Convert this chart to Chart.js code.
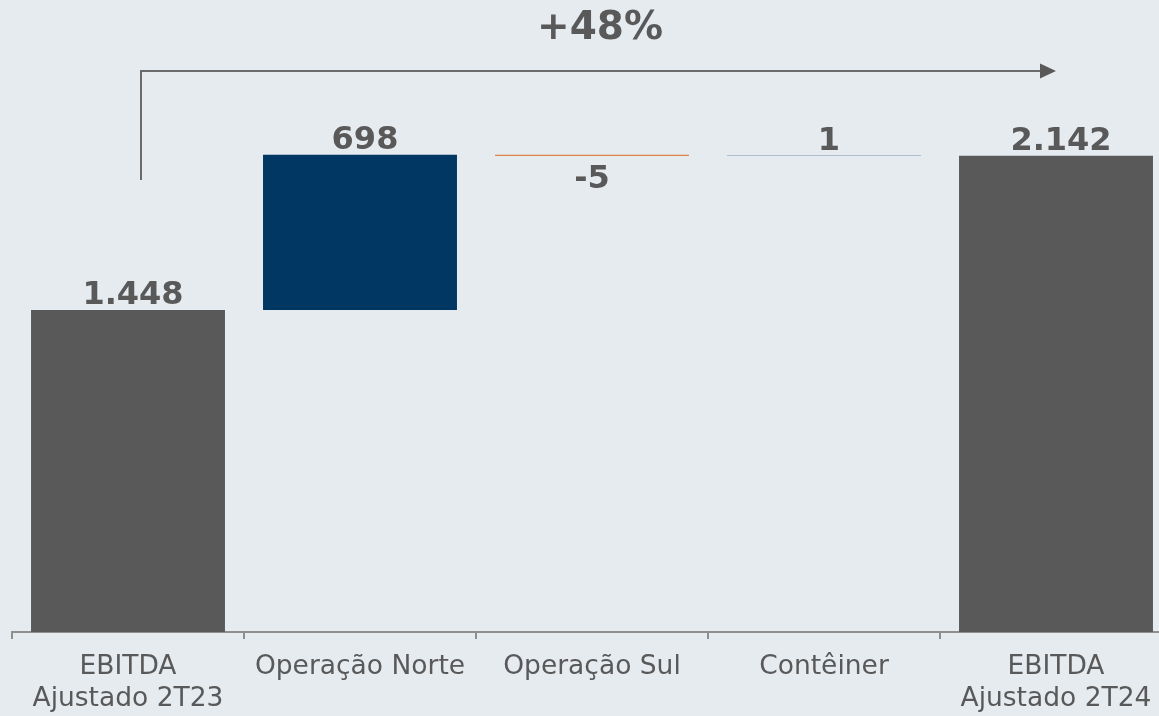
<!DOCTYPE html>
<html>
<head>
<meta charset="utf-8">
<script src="https://cdn.jsdelivr.net/npm/chart.js@4/dist/chart.umd.min.js"></script>
<style>
  html, body { margin: 0; padding: 0; background: #e6ebf0; overflow: hidden; }
  #wrap { width: 1185px; height: 716px; }
</style>
</head>
<body>
<div id="wrap"><canvas id="grafico"></canvas></div>
<script>
// dados do gráfico (R$ milhões)
const categorias = [['EBITDA', 'Ajustado 2T23'], 'Operação Norte', 'Operação Sul', 'Contêiner', ['EBITDA', 'Ajustado 2T24']];
const valores = [1448, 698, -5, 1, 2142];
const ehTotal = [true, false, false, false, true];
const variacaoTexto = '+48%';

const corTotal = '#595959';
const corPositivo = '#003763';
const corNegativo = '#e0804a';
const corTexto = '#595959';

// monta as barras flutuantes da cascata
let acumulado = 0;
const barras = valores.map(function (v, i) {
    if (ehTotal[i]) { acumulado = v; return [0, v]; }
    const ini = acumulado;
    acumulado += v;
    return [ini, acumulado];
});
const cores = valores.map(function (v, i) {
    if (ehTotal[i]) return corTotal;
    return v < 0 ? corNegativo : corPositivo;
});

function formatar(v) {
    const s = String(Math.abs(v)).replace(/\B(?=(\d{3})+(?!\d))/g, '.');
    return (v < 0 ? '-' : '') + s;
}

// rótulos e seta de variação
const rotulosPlugin = {
    id: 'rotulos',
    afterDatasetsDraw(chart) {
        const ctx = chart.ctx;
        const meta = chart.getDatasetMeta(0);
        const y = chart.scales.y;
        ctx.save();
        ctx.fillStyle = corTexto;
        ctx.font = 'bold 32px "DejaVu Sans"';
        ctx.textAlign = 'center';
        meta.data.forEach(function (bar, i) {
            const v = valores[i];
            const topo = y.getPixelForValue(Math.max(barras[i][0], barras[i][1]));
            const base = y.getPixelForValue(Math.min(barras[i][0], barras[i][1]));
            if (v < 0 && !ehTotal[i]) {
                ctx.textBaseline = 'top';
                ctx.fillText(formatar(v), bar.x, base + 8);
            } else {
                ctx.textBaseline = 'alphabetic';
                ctx.fillText(formatar(v), bar.x + 5, topo - 6);
            }
        });

        // seta
        const x0 = chart.scales.x.getPixelForValue(0) + 13;
        const x1 = chart.scales.x.getPixelForValue(valores.length - 1);
        const yl = 71;
        ctx.strokeStyle = '#6b6b6b';
        ctx.lineWidth = 2;
        ctx.beginPath();
        ctx.moveTo(x0, 180);
        ctx.lineTo(x0, yl);
        ctx.lineTo(x1 - 14, yl);
        ctx.stroke();
        ctx.fillStyle = '#595959';
        ctx.beginPath();
        ctx.moveTo(x1 - 16, yl - 7.5);
        ctx.lineTo(x1, yl);
        ctx.lineTo(x1 - 16, yl + 7.5);
        ctx.closePath();
        ctx.fill();

        ctx.fillStyle = corTexto;
        ctx.font = 'bold 39px "DejaVu Sans"';
        ctx.textBaseline = 'alphabetic';
        ctx.fillText(variacaoTexto, 600, 39);
        ctx.restore();
    }
};

const ctx = document.getElementById('grafico').getContext('2d');
new Chart(ctx, {
    type: 'bar',
    data: {
        labels: categorias,
        datasets: [{
            data: barras,
            backgroundColor: cores,
            borderWidth: 0,
            barPercentage: 0.836,
            categoryPercentage: 1
        }]
    },
    options: {
        responsive: true,
        maintainAspectRatio: false,
        animation: false,
        layout: { padding: { left: 12, right: 13, top: 0, bottom: 0 } },
        plugins: { legend: { display: false }, tooltip: { enabled: false } },
        scales: {
            y: { display: false, min: 0, max: 2842 },
            x: {
                grid: { drawOnChartArea: false, tickLength: 7, color: '#8f8f8f', lineWidth: 2 },
                border: { color: '#8f8f8f', width: 2 },
                ticks: {
                    color: corTexto,
                    padding: 12,
                    maxRotation: 0,
                    autoSkip: false,
                    font: { family: 'DejaVu Sans', size: 26.5, lineHeight: 1.2 }
                },
                afterFit: function (scale) { scale.height = 84; }
            }
        }
    },
    plugins: [rotulosPlugin]
});
</script>
</body>
</html>
